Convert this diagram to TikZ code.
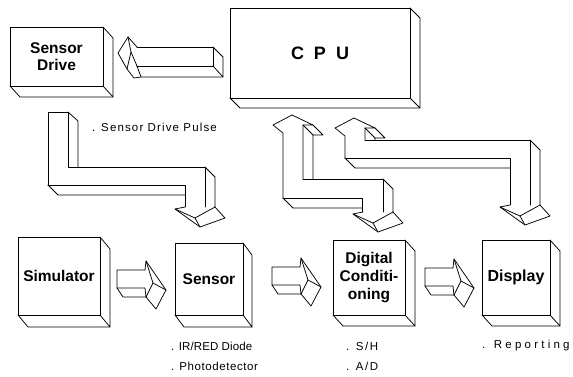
\documentclass[tikz,border=0pt]{standalone}
\usepackage{fontspec}
\setmainfont{Liberation Sans}
\usetikzlibrary{calc}

\tikzset{
  edge/.style={line width=0.75pt, line join=round, line cap=round},
  front/.style={draw, line width=0.75pt, inner sep=0pt, outer sep=0pt, align=center,
    font=\bfseries\fontsize{15.5}{18}\selectfont},
  note/.style={anchor=west, inner sep=0pt,
    font=\fontsize{11.5}{13}\selectfont\addfontfeatures{LetterSpace=#1}},
  note/.default=10,
}

% visible right and bottom faces of a block whose front face is node #1
\newcommand\blockdepth[3]{%
  \draw[edge] (#1.north east) -- ++(#2,#3) -- ($(#1.south east)+(#2,#3)$) -- (#1.south east);
  \draw[edge] (#1.south west) -- ++(#2,#3) -- ($(#1.south east)+(#2,#3)$);
}

% block arrow pointing right, #1 = top-left corner of the shaft front
\newcommand\rightblockarrow[1]{%
  \begin{scope}[shift={#1}]
    \draw[edge] (28,0) -- (0,0) -- (0,18) -- (28,18) -- (29,27);
    \draw[edge] (0,18) -- (6,27) -- (29,27);
    \draw[edge] (28,0) -- (29,-9) -- (49,20) -- (39,39) -- (29,27);
    \draw[edge] (29,-9) -- (36,13) -- (49,20);
    \draw[edge] (36,13) -- (29,27);
  \end{scope}}

% downward head, #1 = lower right corner of the shaft front
\newcommand\downblockhead[1]{%
  \begin{scope}[shift={#1}]
    \draw[edge] (-20,0) -- (-30,2) -- (-5,20) -- (20,11) -- (10,0);
    \draw[edge] (-30,2) -- (-10,11) -- (-5,20);
    \draw[edge] (-10,11) -- (10,0);
  \end{scope}}

\begin{document}
\begin{tikzpicture}[x=1pt, y=-1pt]
  \useasboundingbox (0,0) rectangle (573,376);

  % blocks
  \node[front, minimum width=93pt, minimum height=59pt] (drive) at (56.5,56.5) {Sensor\\[-1pt]Drive};
  \node[front, minimum width=180pt, minimum height=90pt,
        font=\bfseries\fontsize{18}{20}\selectfont] (cpu) at (320,53) {\spaceskip=10pt C P U};
  \node[front, minimum width=82pt, minimum height=78pt] (sim) at (59,276) {Simulator};
  \node[front, minimum width=68pt, minimum height=72pt] (sensor) at (209,279) {Sensor};
  \node[front, minimum width=72pt, minimum height=75pt] (dc) at (369,277.5) {Digital\\Conditi-\\oning};
  \node[front, minimum width=68pt, minimum height=75pt,
        font=\bfseries\fontsize{16}{18}\selectfont] (disp) at (516,277.5) {Display};
  \blockdepth{drive}{10}{11}
  \blockdepth{cpu}{10}{10}
  \blockdepth{sim}{10}{12}
  \blockdepth{sensor}{9}{12}
  \blockdepth{dc}{10}{11}
  \blockdepth{disp}{10}{11}

  % CPU to sensor drive
  \draw[edge] (137,47) -- (213,47) -- (213,66) -- (137,66);
  \draw[edge] (213,47) -- (223,57) -- (223,77) -- (213,66);
  \draw[edge] (137,66) -- (141,77) -- (223,77);
  \draw[edge] (137,47) -- (128,37) -- (118,53) -- (127,69) -- (134,78) -- (141,77);
  \draw[edge] (128,37) -- (131,52) -- (127,69);
  \draw[edge] (131,52) -- (137,66);

  % sensor drive pulse to sensor
  \draw[edge] (48,185) -- (48,112) -- (68,112) -- (68,167) -- (205,167) -- (205,207);
  \draw[edge] (68,112) -- (78,121) -- (78,167);
  \draw[edge] (205,167) -- (215,177) -- (215,207);
  \draw[edge] (48,185) -- (185,185) -- (185,207);
  \draw[edge] (48,185) -- (58,195) -- (185,195);
  \downblockhead{(205,207)}

  % CPU and digital conditioning
  \draw[edge] (283,198) -- (283,133) -- (273,125) -- (292,115) -- (313,125) -- (303,125) -- (303,179);
  \draw[edge] (313,125) -- (323,135) -- (313,135) -- (313,179);
  \draw[edge] (303,125) -- (313,135);
  \draw[edge] (303,179) -- (383,179) -- (383,212);
  \draw[edge] (383,179) -- (393,189) -- (393,212);
  \draw[edge] (283,198) -- (362,198) -- (362,212);
  \draw[edge] (283,198) -- (293,208) -- (362,208);
  \downblockhead{(383,212)}

  % CPU and display
  \draw[edge] (345,158) -- (345,136) -- (335,128) -- (354,118) -- (375,128) -- (365,128) -- (365,140);
  \draw[edge] (375,128) -- (385,138) -- (375,138) -- (375,140);
  \draw[edge] (365,128) -- (375,138);
  \draw[edge] (365,140) -- (530,140) -- (530,205);
  \draw[edge] (530,140) -- (540,150) -- (540,205);
  \draw[edge] (345,158) -- (510,158) -- (510,205);
  \draw[edge] (345,158) -- (355,168) -- (510,168);
  \downblockhead{(530,205)}

  % signal chain along the bottom row
  \rightblockarrow{(117,270)}
  \rightblockarrow{(272,267)}
  \rightblockarrow{(425,268)}

  % notes
  \node[note] (pulse) at (92,127) {. Sensor Drive Pulse};
  \node[note=1] (diode) at (171,346) {. IR/RED Diode};
  \node[note=5] (photo) at (171,366) {. Photodetector};
  \node[note=14] (sh) at (346,346) {. S/H};
  \node[note=14] (ad) at (346,366) {. A/D};
  \node[note=28] (rep) at (482,346) {. Reporting};
\end{tikzpicture}
\end{document}
